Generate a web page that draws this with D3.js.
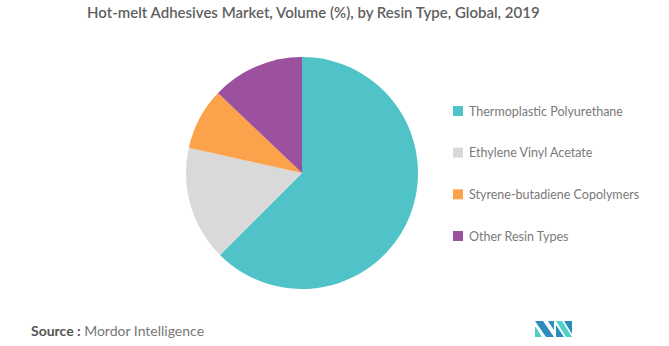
<!DOCTYPE html>
<html><head><meta charset="utf-8">
<script src="https://cdn.jsdelivr.net/npm/d3@7"></script>
<style>body{margin:0;background:#fff;}svg{display:block;font-family:Lato, "Open Sans", sans-serif;}</style>
</head><body>
<svg id="c" width="669" height="346"></svg>
<script>
const categories = ["Thermoplastic Polyurethane","Ethylene Vinyl Acetate","Styrene-butadiene Copolymers","Other Resin Types"];
const values = [62.5, 16.0, 8.6, 12.9];
const colors = ["#4FC3C8","#D9D9D9","#FBA24A","#9C519E"];
const title = "Hot-melt Adhesives Market, Volume (%), by Resin Type, Global, 2019";

const svg = d3.select("#c");
svg.append("text").attr("x",87).attr("y",18).attr("fill","#5f5f5f")
  .attr("font-size",15).attr("font-weight",600).text(title);

const color = d3.scaleOrdinal().domain(categories).range(colors);
const pie = d3.pie().sort(null).value(d=>d.v);
const arc = d3.arc().innerRadius(0).outerRadius(116);
const data = categories.map((c,i)=>({c, v: values[i]}));
const g = svg.append("g").attr("transform","translate(302,173)");
g.selectAll("path").data(pie(data)).join("path")
  .attr("d",arc).attr("fill",d=>color(d.data.c));

const ly = d3.scalePoint().domain(categories).range([111,236]);
const lg = svg.append("g");
const items = lg.selectAll("g").data(categories).join("g")
  .attr("transform",d=>`translate(453,${ly(d)})`);
items.append("rect").attr("x",0).attr("y",-5).attr("width",10).attr("height",10).attr("fill",d=>color(d));
items.append("text").attr("x",16).attr("y",4.5).attr("font-size",12.5).attr("fill","#7a7a7a").text(d=>d);

const src = svg.append("text").attr("x",31).attr("y",336).attr("font-size",14);
src.append("tspan").attr("fill","#555").attr("font-weight",700).text("Source : ");
src.append("tspan").attr("fill","#777").text("Mordor Intelligence");

// logo
const blue = "#2B8CBE", teal = "#4DD0C8";
const logo = svg.append("g").attr("transform","translate(535,321)");
logo.append("path").attr("d","M0,0 L8,0 L19,16 L11,16 Z").attr("fill",blue);
logo.append("path").attr("d","M0,5 L0,16 L7,16 Z").attr("fill",teal);
logo.append("path").attr("d","M13,0 L19,0 L19,9 Z").attr("fill",blue);
logo.append("path").attr("d","M21,0 L27,0 L37,16 L31,16 Z").attr("fill",teal);
logo.append("path").attr("d","M21,4 L21,16 L29,16 Z").attr("fill",blue);
logo.append("path").attr("d","M29,0 L37,0 L37,13 Z").attr("fill",blue);
</script>
</body></html>
